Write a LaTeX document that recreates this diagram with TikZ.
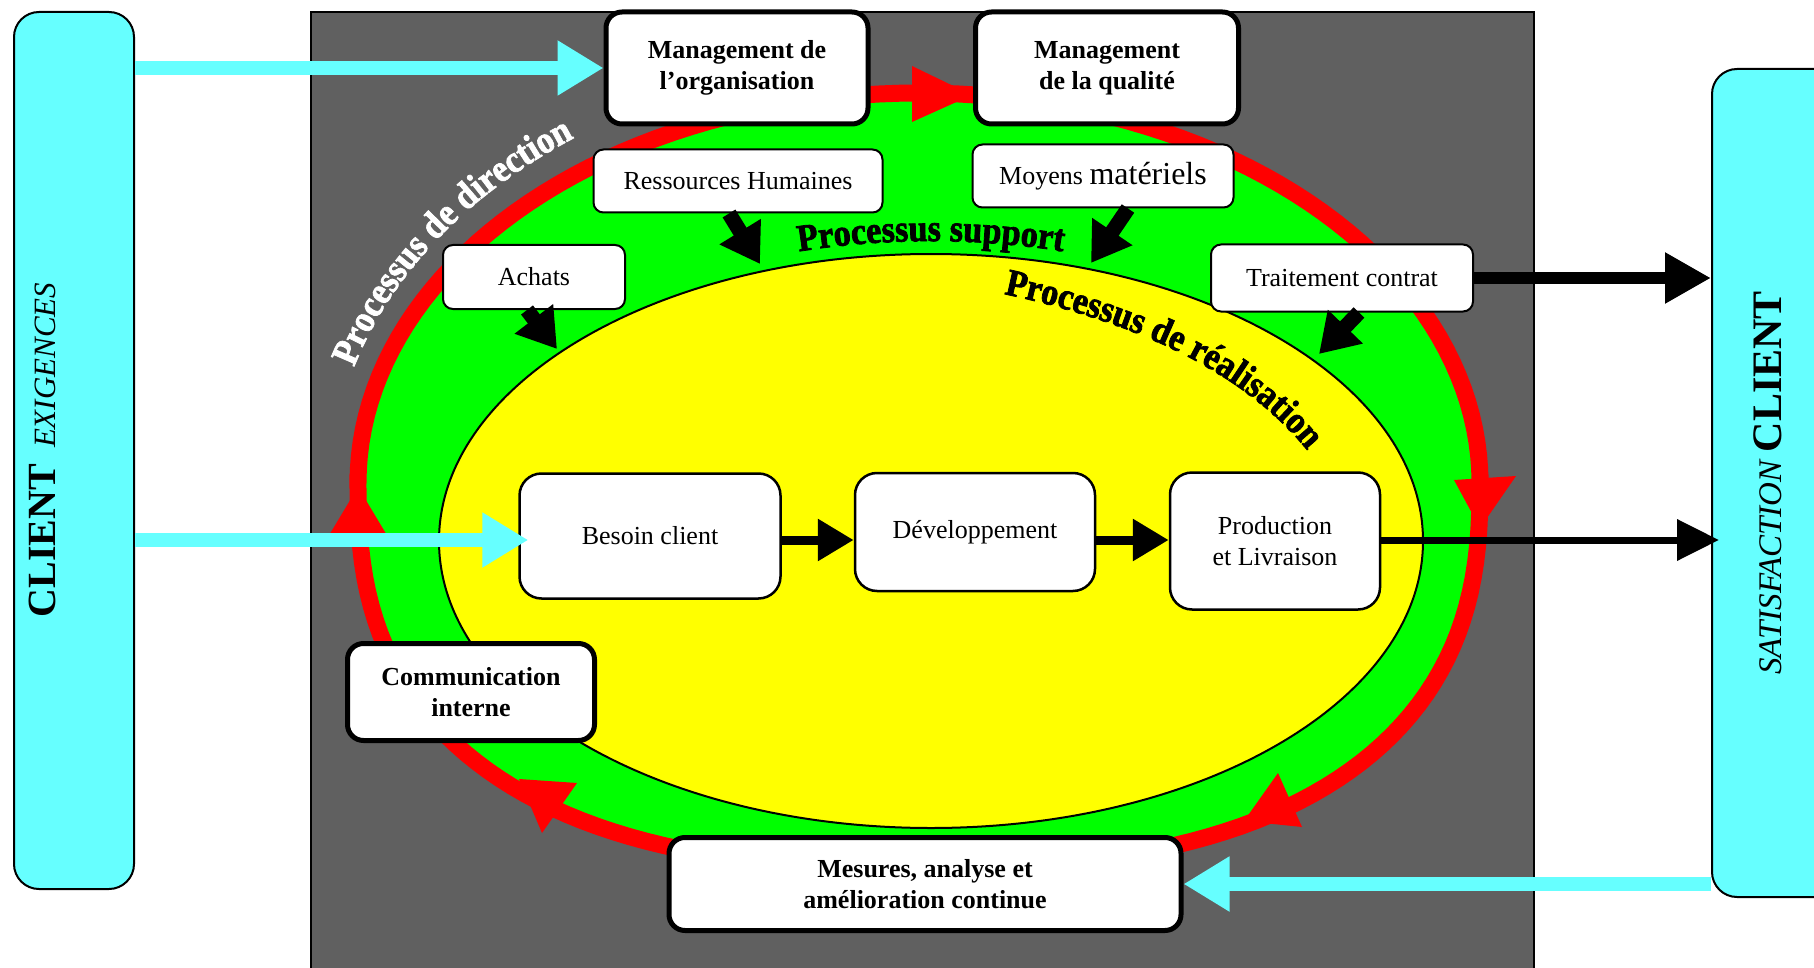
\documentclass[tikz,border=0pt]{standalone}
\usepackage{fontspec}
\setmainfont{Liberation Serif}
\newfontfamily\wafont{Liberation Serif}[BoldFeatures={FakeBold=2,FakeStretch=0.9}]
\usetikzlibrary{arrows.meta,decorations.text,calc}
\definecolor{cyanb}{HTML}{66FFFF}
\definecolor{grayb}{HTML}{606060}
\definecolor{greenb}{HTML}{00FF00}
\definecolor{yellowb}{HTML}{FFFF00}
\definecolor{redb}{HTML}{FF0000}
\tikzset{
  cbox/.style={draw=black, line width=2pt, fill=cyanb, rounded corners=25pt, inner sep=0pt},
  bbox/.style={draw=black, line width=5pt, fill=white, rounded corners=16pt, align=center, inner sep=0pt, font=\bfseries\fontsize{26}{31}\selectfont},
  nbox/.style={draw=black, line width=2pt, fill=white, rounded corners=10pt, align=center, inner sep=0pt, font=\fontsize{26}{31}\selectfont},
  pbox/.style={nbox, line width=2.5pt, rounded corners=22pt},
  cyarrow/.style={draw=cyanb, line width=14pt, -{Triangle[length=46pt,width=52pt]}},
  bkarrow/.style={draw=black, line width=9pt, -{Triangle[length=36pt,width=40pt]}},
  thinarrow/.style={draw=black, line width=7pt, -{Triangle[length=42pt,width=40pt]}},
  thickarrow/.style={draw=black, line width=12pt, -{Triangle[length=46pt,width=48pt]}},
  blk/.style={draw=black, line width=15pt, -{Triangle[length=38pt,width=46pt]}},
  wa/.style={decorate, decoration={text along path, #1}},
}
\begin{document}
\begin{tikzpicture}[x=1pt,y=-1pt,
  declare function={
    ssx(\t)=cos(\t)*pow(abs(cos(\t))+0.0001,-0.2);
    ssy(\t)=sin(\t)*pow(abs(sin(\t))+0.0001,-0.2);
  }]
\useasboundingbox (0,0) rectangle (1814,968);

% client boxes
\node[cbox, minimum width=120pt, minimum height=877pt] (lc) at (74,450.5) {};
\node[cbox, minimum width=150pt, minimum height=828pt] (rc) at (1787,483) {};
\node[rotate=90, anchor=base] (lct) at (55,450)
  {{\fontsize{40}{45}\selectfont\bfseries CLIENT}\hspace{16pt}{\fontsize{31}{36}\selectfont\itshape EXIGENCES}};
\node[rotate=90, anchor=base] (rct) at (1781,483)
  {{\fontsize{33}{38}\selectfont\itshape SATISFACTION}\hspace{8pt}{\fontsize{42}{48}\selectfont\bfseries CLIENT}};

% gray field
\filldraw[fill=grayb, draw=black, line width=2pt] (311,12) rectangle (1534,975);

% red ring with green inside
\filldraw[fill=greenb, draw=redb, line width=17pt]
  plot[domain=0:180, samples=91] ({919+561*cos(\x)},{483-390*sin(\x)})
  -- plot[domain=180:360, samples=91] ({919+561*ssx(\x)},{483-385*ssy(\x)}) -- cycle;

% red arrowheads on ring
\fill[redb] (912,66) -- (972,95) -- (912,122) -- cycle;
\fill[redb] (1454,480) -- (1480,528) -- (1516,476) -- cycle;
\fill[redb] (1278,773) -- (1244,821) -- (1302,827) -- cycle;
\fill[redb] (577,783) -- (519,779) -- (542,833) -- cycle;
\fill[redb] (328,537) -- (358,487) -- (388,537) -- cycle;

% yellow ellipse
\filldraw[fill=yellowb, draw=black, line width=2pt] (931,541) ellipse [x radius=492, y radius=287];

% curved texts
\path[wa={text align=center, text={|\wafont\bfseries\fontsize{38}{42}\selectfont\color{white}|Processus de direction}}]
  plot[domain=0:70, samples=60] ({917+585*cos(182-\x)},{483-426*sin(182-\x)});
\path[wa={text align=center, text={|\wafont\bfseries\fontsize{38}{42}\selectfont|Processus support}}]
  plot[domain=0:56, samples=50] ({931+505*cos(118-\x)},{541-300*sin(118-\x)});
\path[wa={text={|\wafont\bfseries\fontsize{38}{42}\selectfont|Processus de réalisation}}]
  (1004,294) .. controls (1112,317) and (1230,360) .. (1302,444) -- (1342,492);

% boxes
\node[bbox, minimum width=262pt, minimum height=112pt] (mo) at (737,68) {Management de\\l’organisation};
\node[bbox, minimum width=263pt, minimum height=112pt] (mq) at (1107,68) {Management\\de la qualité};
\node[nbox, minimum width=289pt, minimum height=63pt] (rh) at (738,181) {Ressources Humaines};
\node[nbox, minimum width=261pt, minimum height=63pt] (mm) at (1103,176) {Moyens {\fontsize{32}{36}\selectfont matériels}};
\node[nbox, minimum width=182pt, minimum height=64pt] (ach) at (534,277) {Achats};
\node[nbox, minimum width=262pt, minimum height=67pt] (tc) at (1342,278) {Traitement contrat};
\node[pbox, minimum width=261pt, minimum height=125pt] (bc) at (650,536) {Besoin client};
\node[pbox, minimum width=240pt, minimum height=118pt] (dev) at (975,532) {Développement};
\node[pbox, minimum width=210pt, minimum height=137pt] (prod) at (1275,541) {Production\\et Livraison};
\node[bbox, minimum width=247pt, minimum height=97pt] (comm) at (471,692) {Communication\\interne};
\node[bbox, minimum width=512pt, minimum height=93pt] (mes) at (925,884) {Mesures, analyse et\\amélioration continue};

% connectors
\coordinate (axis) at (0,540);
\draw[cyarrow] (lc.east |- mo.west) -- (mo.west);
\draw[cyarrow] (lc.east |- axis) -- ([xshift=10pt]bc.west |- axis);
\draw[cyarrow] (rc.west |- mes.east) -- (mes.east);
\draw[bkarrow] (bc.east |- axis) -- (dev.west |- axis);
\draw[bkarrow] (dev.east |- axis) -- (prod.west |- axis);
\draw[thinarrow] (prod.east |- axis) -- ([xshift=8pt]rc.west |- axis);
\draw[thickarrow] (tc.east) -- (tc.east -| rc.west);

\coordinate (rhT) at (760,264);
\coordinate (mmT) at (1091,263);
\coordinate (achT) at (557,349);
\coordinate (tcT) at (1319,354);
\draw[blk] ($(rh.south)+(-9,0)$) -- (rhT);
\draw[blk] ($(mm.south)+(25,0)$) -- (mmT);
\draw[blk] ($(ach.south)+(-7,0)$) -- (achT);
\draw[blk] ($(tc.south)+(17,0)$) -- (tcT);
\end{tikzpicture}
\end{document}
